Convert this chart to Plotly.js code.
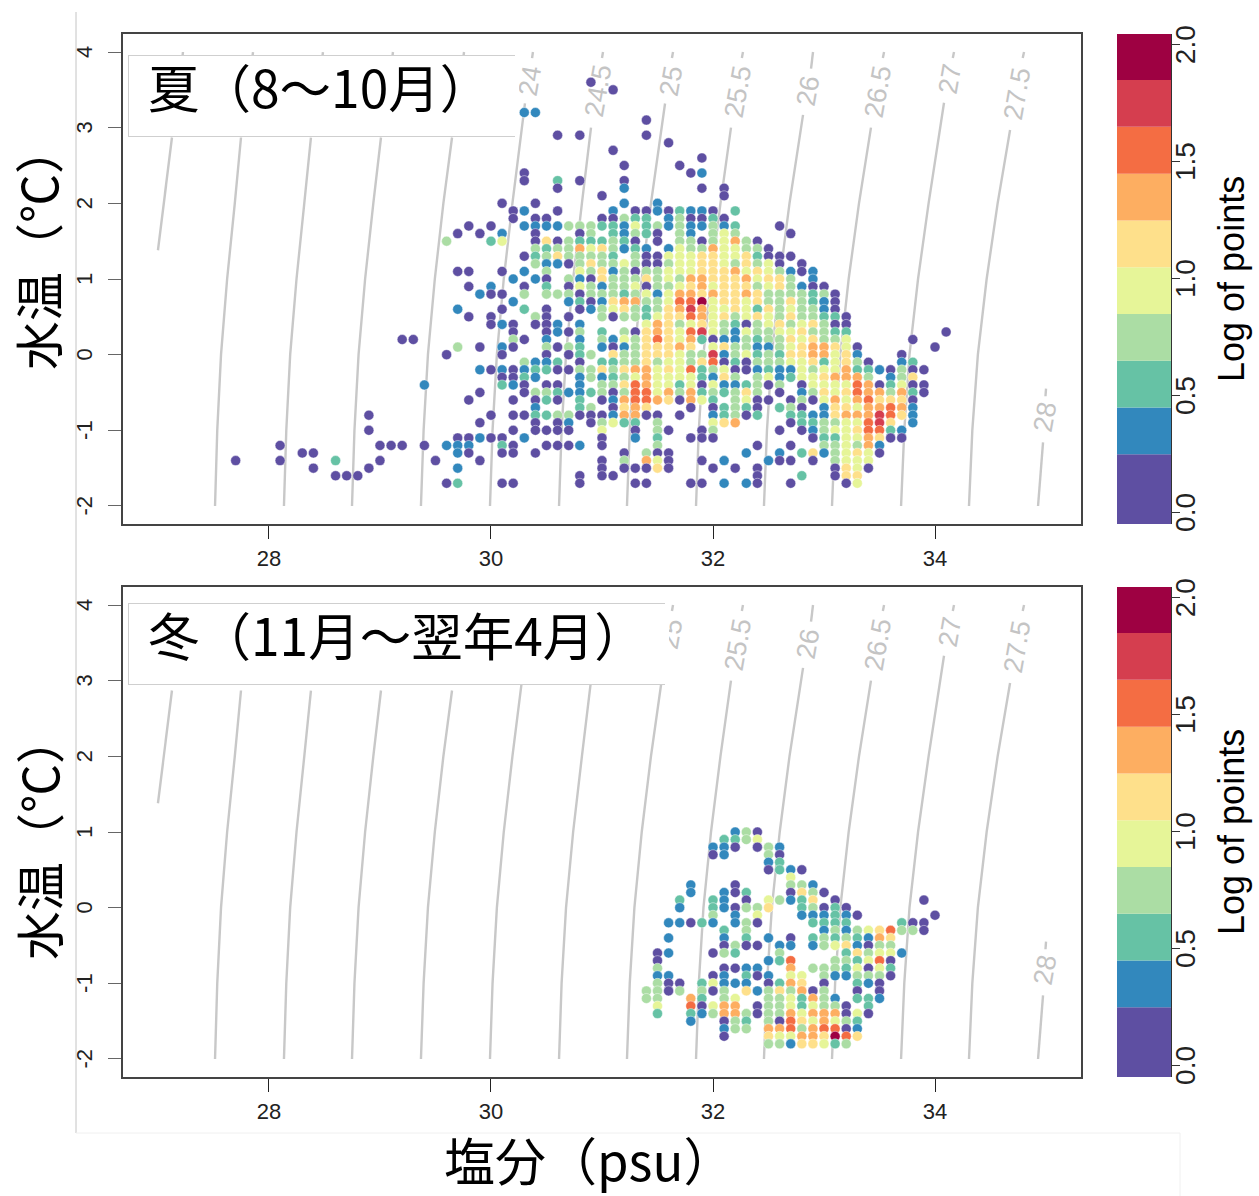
<!DOCTYPE html>
<html><head><meta charset="utf-8">
<script src="https://cdn.plot.ly/plotly-3.0.1.min.js"></script>
<style>html,body{margin:0;padding:0;background:#fff}#c{width:1259px;height:1196px}</style>
</head><body><div id="c"></div>
<script>
// Bin colours of "Log of points" (ten bins) and the edges of the legend cells
const binColors = ["#5E4FA2","#3288BD","#66C2A5","#ABDDA4","#E6F598","#FEE08B","#FDAE61","#F46D43","#D53E4F","#9E0142"];
const binLabels = ["0.0-0.25","0.25-0.45","0.45-0.65","0.65-0.85","0.85-1.05","1.05-1.25","1.25-1.45","1.45-1.65","1.65-1.85","1.85-2.05"];
const binEdges = [-0.048,0.25,0.45,0.65,0.85,1.05,1.25,1.45,1.65,1.85,2.047];

// Summer: salinity column -> "temperature:bin" list
const summerColumns = [
[27.7,"-1.4:0"],
[28.1,"-1.2:0 -1.4:0"],
[28.3,"-1.3:0"],
[28.4,"-1.3:0 -1.5:0"],
[28.6,"-1.4:2 -1.6:0"],
[28.7,"-1.6:0"],
[28.8,"-1.6:0"],
[28.9,"-0.8:0 -1:0 -1.5:0"],
[29.0,"-1.2:0 -1.4:0"],
[29.1,"-1.2:0"],
[29.2,"0.2:0 -1.2:0"],
[29.3,"0.2:0"],
[29.4,"-0.4:1 -1.2:0"],
[29.5,"-1.4:0"],
[29.6,"1.5:3 0:0 -1.2:1 -1.7:0"],
[29.7,"1.6:0 1.1:0 0.6:1 0.1:3 -1.1:0 -1.2:1 -1.3:1 -1.5:1 -1.7:2"],
[29.8,"1.7:0 1.1:0 0.9:0 0.5:0 -0.6:0 -1.1:0 -1.2:1 -1.3:0"],
[29.9,"1.6:0 0.8:1 0.1:0 -0.2:1 -0.5:0 -0.9:0 -1.1:1 -1.4:0"],
[30.0,"1.7:0 1.5:2 0.9:1 0.8:0 0.5:0 0.4:0 -0.2:0 -0.8:0 -1.1:0"],
[30.1,"2:0 1.6:1 1.5:4 1.1:0 0.8:0 0.6:0 0.4:1 0.1:1 0:0 -0.2:1 -0.3:0 -0.4:2 -1.1:0 -1.2:2 -1.3:0 -1.7:0"],
[30.2,"1.9:0 1.8:0 1:1 0.7:1 0.4:0 0.3:0 0.2:3 0.1:0 -0.2:0 -0.3:0 -0.4:1 -0.6:0 -0.8:0 -1:0 -1.2:0 -1.3:0 -1.7:0"],
[30.3,"3.2:1 2.4:0 2.3:0 1.9:1 1.7:1 1.3:0 1.1:1 0.9:0 0.8:3 0.6:2 0.2:0 -0.1:3 -0.2:1 -0.3:2 -0.4:0 -0.5:0 -0.8:0 -1.1:1"],
[30.4,"3.2:1 2:0 1.8:0 1.7:1 1.6:0 1.5:0 1.4:3 1.3:2 1.2:3 1:1 0.5:3 0.4:0 -0.1:1 -0.2:2 -0.3:1 -0.5:3 -0.6:0 -0.7:1 -0.8:2 -0.9:0 -1:0 -1.3:0"],
[30.5,"1.8:0 1.7:1 1.5:5 1.4:2 1.3:3 1.2:1 1.1:3 1:0 0.9:2 0.8:3 0.6:0 0.5:0 0.4:0 0.3:0 0.2:1 0.1:3 0:0 -0.1:1 -0.2:2 -0.4:0 -0.5:3 -0.6:2 -0.8:2 -1:0 -1.2:0"],
[30.6,"2.9:0 2.3:2 2.2:0 1.9:0 1.7:1 1.5:0 1.4:3 1.3:5 1.2:1 0.8:3 0.4:1 0.3:1 0.1:0 -0.1:2 -0.2:0 -0.4:0 -0.5:2 -0.6:0 -0.8:3 -0.9:0 -1:0 -1.2:0"],
[30.7,"1.7:3 1.5:3 1.4:3 1.3:3 1.2:0 1:3 0.9:0 0.8:3 0.7:1 0.5:0 0.3:0 0.1:3 0:0 -0.2:0 -0.5:1 -0.8:3 -0.9:1 -1:0 -1.2:0"],
[30.8,"2.9:0 2.3:0 1.7:3 1.6:0 1.5:2 1.4:6 1.3:3 1.2:3 1.1:4 1:1 0.9:4 0.8:0 0.7:2 0.6:0 0.4:1 0.3:3 0.2:1 0.1:2 0:2 -0.1:0 -0.2:3 -0.3:1 -0.4:1 -0.5:1 -0.6:2 -0.7:2 -0.8:0 -1.2:1 -1.6:0 -1.7:0"],
[30.9,"3.6:0 1.7:3 1.6:3 1.5:2 1.4:4 1.3:3 1.2:5 1.1:3 1:0 0.9:3 0.8:3 0.7:0 0.6:1 0:3 -0.2:3 -0.3:3 -0.5:2 -0.7:3 -0.8:0 -0.9:0"],
[31.0,"2.1:0 1.8:0 1.7:2 1.5:2 1.4:5 1.3:3 1.2:3 1.1:5 1:5 0.9:1 0.8:3 0.7:1 0.6:3 0.5:3 0.3:2 0.2:3 0.1:1 -0.1:2 -0.2:5 -0.3:1 -0.4:3 -0.5:3 -0.6:0 -0.8:0 -0.9:3 -1:4 -1.1:0 -1.2:0 -1.4:0 -1.5:0 -1.6:0"],
[31.1,"3.5:0 2.7:0 1.9:1 1.8:0 1.7:2 1.6:2 1.5:3 1.4:3 1.3:2 1.2:3 1.1:1 1:3 0.9:3 0.8:3 0.7:5 0.6:4 0.5:0 0.2:1 0.1:0 0:5 -0.1:2 -0.2:3 -0.3:2 -0.4:3 -0.5:0 -0.6:1 -0.7:0 -0.8:1 -0.9:4 -1.6:0"],
[31.2,"2.5:0 2.3:0 2.2:1 2:1 1.8:3 1.7:1 1.6:1 1.5:2 1.4:1 1.2:4 1.1:3 1:3 0.9:3 0.8:2 0.7:6 0.6:5 0.5:3 0.3:3 0.2:4 0.1:1 0:3 -0.1:3 -0.2:5 -0.3:3 -0.4:5 -0.5:3 -0.6:6 -0.7:5 -0.8:6 -0.9:2 -1.3:0 -1.4:3 -1.5:0"],
[31.3,"1.9:0 1.8:2 1.7:4 1.6:3 1.5:0 1.4:2 1.3:3 1.2:3 1.1:0 1:3 0.9:4 0.8:3 0.7:6 0.6:3 0.5:3 0.3:0 0.2:3 0.1:3 0:3 -0.1:3 -0.2:6 -0.3:4 -0.4:7 -0.5:7 -0.6:7 -0.7:6 -0.8:6 -0.9:2 -1:0 -1.1:1 -1.5:0 -1.7:0"],
[31.4,"3.1:0 2.9:0 1.9:0 1.8:2 1.7:2 1.6:2 1.4:1 1.3:0 1.2:0 1.1:3 1:5 0.9:0 0.8:4 0.7:3 0.6:2 0.5:2 0.4:4 0.3:5 0.2:5 0.1:5 0:5 -0.1:5 -0.2:6 -0.3:6 -0.4:6 -0.5:7 -0.6:7 -0.7:5 -0.8:0 -1.3:3 -1.4:6 -1.5:0 -1.7:0"],
[31.5,"2:1 1.9:1 1.7:3 1.6:0 1.5:0 1.3:0 1.2:0 1.1:3 1:3 0.9:3 0.8:1 0.7:3 0.6:3 0.5:4 0.4:6 0.3:6 0.2:7 0.1:5 0:5 -0.1:3 -0.2:4 -0.3:4 -0.4:4 -0.5:4 -0.6:6 -0.8:0 -0.9:3 -1:3 -1.1:2 -1.2:3 -1.3:0 -1.4:4 -1.5:5"],
[31.6,"2.8:0 1.9:0 1.8:1 1.7:1 1.4:1 1.3:4 1.2:3 1.1:4 1:4 0.9:3 0.8:4 0.7:4 0.6:5 0.5:5 0.4:5 0.3:5 0.2:5 0.1:5 0:5 -0.1:4 -0.2:5 -0.3:4 -0.4:4 -0.5:6 -0.6:5 -1:0 -1.3:0 -1.4:0 -1.5:0"],
[31.7,"2.5:0 1.9:2 1.8:3 1.7:3 1.6:3 1.5:3 1.4:4 1.3:4 1.2:4 1.1:4 1:3 0.9:4 0.8:6 0.7:7 0.6:6 0.5:5 0.4:3 0.3:4 0.2:4 0.1:6 0:4 -0.1:4 -0.2:4 -0.3:4 -0.4:2 -0.5:3 -0.6:0 -0.8:0"],
[31.8,"2.4:0 1.9:1 1.8:0 1.7:1 1.6:1 1.5:3 1.4:3 1.3:4 1.2:4 1.1:4 1:6 0.9:5 0.8:6 0.7:7 0.6:8 0.5:7 0.4:4 0.3:7 0.2:6 0.1:5 0:3 -0.1:3 -0.2:7 -0.3:4 -0.4:4 -0.5:6 -0.6:6 -0.7:0 -1.1:0 -1.7:0"],
[31.9,"2.6:0 2.4:1 2.2:0 1.9:1 1.8:0 1.7:1 1.5:0 1.4:3 1.3:5 1.2:5 1.1:5 1:6 0.9:6 0.8:5 0.7:9 0.6:6 0.5:6 0.4:5 0.3:8 0.2:2 0:3 -0.1:5 -0.2:2 -0.3:2 -0.4:0 -0.5:2 -0.6:4 -1:0 -1.1:0 -1.4:0 -1.7:0"],
[32.0,"1.9:0 1.8:2 1.7:3 1.6:3 1.5:3 1.4:6 1.3:5 1.2:5 1.1:5 1:5 0.9:4 0.8:6 0.7:4 0.6:4 0.5:4 0.4:4 0.3:4 0.2:0 0.1:4 0:8 -0.1:7 -0.2:3 -0.3:1 -0.4:4 -0.5:3 -0.6:2 -0.7:0 -0.8:1 -0.9:4 -1:3 -1.1:0 -1.5:0"],
[32.1,"2.2:0 2.1:0 1.8:0 1.7:1 1.6:4 1.5:4 1.4:4 1.3:4 1.2:4 1.1:5 1:5 0.9:5 0.8:5 0.7:5 0.6:4 0.5:5 0.4:3 0.3:3 0.2:1 0.1:5 0:1 -0.1:0 -0.2:4 -0.3:5 -0.4:1 -0.5:2 -0.7:2 -0.8:2 -0.9:5 -1.4:1 -1.7:1"],
[32.2,"1.9:2 1.7:2 1.6:3 1.5:6 1.4:4 1.3:4 1.2:3 1.1:6 1:5 0.9:5 0.8:5 0.7:5 0.6:5 0.5:3 0.4:2 0.3:1 0.2:1 0.1:3 0:3 -0.1:2 -0.2:0 -0.3:3 -0.4:1 -0.5:3 -0.6:3 -0.7:3 -0.8:3 -0.9:6 -1.5:0"],
[32.3,"1.5:3 1.4:3 1.3:5 1.2:5 1.1:4 1:6 0.9:5 0.8:6 0.7:4 0.6:4 0.5:4 0.4:0 0.3:4 0.2:3 0.1:3 0:4 -0.1:0 -0.2:0 -0.4:2 -0.5:5 -0.6:4 -0.7:2 -0.8:0 -1.3:1 -1.7:1"],
[32.4,"1.5:0 1.4:3 1.3:2 1.2:3 1.1:5 1:4 0.9:3 0.8:5 0.7:5 0.6:2 0.5:5 0.4:3 0.3:3 0.2:2 0.1:1 0:2 -0.1:3 -0.2:1 -0.3:3 -0.4:3 -0.5:3 -0.6:0 -0.7:0 -0.8:2 -1.2:0 -1.5:0 -1.6:0 -1.7:0"],
[32.5,"1.4:0 1.3:0 1.2:4 1.1:4 1:5 0.9:4 0.8:3 0.7:3 0.6:5 0.5:4 0.4:4 0.3:3 0.2:3 0.1:1 0:3 -0.1:3 -0.2:2 -0.3:4 -0.4:0 -0.6:0 -1.4:1"],
[32.6,"1.7:0 1.3:0 1.2:0 1.1:3 1:5 0.9:5 0.8:3 0.7:3 0.6:3 0.5:3 0.4:5 0.3:4 0.2:3 0.1:3 0:2 -0.1:3 -0.2:1 -0.3:1 -0.4:3 -0.5:0 -0.7:2 -1:0 -1.3:1 -1.4:0"],
[32.7,"1.6:0 1.3:0 1.1:1 1:3 0.9:3 0.8:3 0.7:5 0.6:4 0.5:5 0.4:3 0.3:4 0.2:5 0.1:4 0:5 -0.1:4 -0.2:1 -0.3:2 -0.6:0 -0.7:3 -0.8:2 -0.9:0 -1.2:0 -1.4:0 -1.7:0"],
[32.8,"1.2:0 1.1:0 0.9:1 0.8:3 0.7:3 0.6:3 0.5:3 0.4:4 0.3:5 0.2:4 0.1:5 0:5 -0.1:4 -0.2:4 -0.3:4 -0.4:0 -0.5:1 -0.6:3 -0.7:0 -0.8:2 -0.9:2 -1:0 -1.3:2 -1.6:2"],
[32.9,"1.1:1 1:1 0.9:0 0.8:2 0.7:2 0.6:3 0.5:3 0.4:5 0.3:3 0.2:5 0.1:6 0:6 -0.1:5 -0.2:3 -0.3:4 -0.4:4 -0.5:3 -0.6:0 -0.8:1 -0.9:2 -1:1 -1.1:0 -1.3:5 -1.4:0"],
[33.0,"0.9:0 0.8:3 0.7:1 0.6:1 0.5:2 0.4:3 0.3:3 0.2:3 0.1:6 0:6 -0.1:2 -0.2:4 -0.3:5 -0.4:4 -0.5:5 -0.6:4 -0.7:1 -0.8:1 -0.9:3 -1:3 -1.1:2 -1.2:3 -1.3:1"],
[33.1,"0.8:0 0.7:0 0.6:0 0.5:2 0.4:0 0.3:2 0.2:3 0.1:5 0:4 -0.1:4 -0.2:4 -0.3:6 -0.4:4 -0.5:4 -0.6:6 -0.7:5 -0.8:5 -0.9:3 -1:4 -1.1:2 -1.2:3 -1.3:3 -1.4:3 -1.5:0 -1.6:0"],
[33.2,"0.5:0 0.4:0 0.3:2 0.2:4 0.1:4 0:5 -0.1:5 -0.2:6 -0.3:6 -0.4:4 -0.5:5 -0.6:4 -0.7:5 -0.8:6 -0.9:4 -1:4 -1.1:4 -1.2:4 -1.3:4 -1.4:4 -1.5:5 -1.6:5 -1.7:0"],
[33.3,"0.1:0 0:1 -0.1:3 -0.2:2 -0.3:6 -0.4:7 -0.5:7 -0.6:6 -0.7:4 -0.8:6 -0.9:4 -1:5 -1.1:4 -1.2:3 -1.3:5 -1.4:4 -1.5:4 -1.6:5 -1.7:4"],
[33.4,"-0.1:0 -0.2:2 -0.3:3 -0.4:6 -0.5:6 -0.6:7 -0.7:6 -0.8:6 -0.9:7 -1:7 -1.1:6 -1.2:6 -1.3:4 -1.4:4 -1.5:0"],
[33.5,"-0.2:1 -0.4:0 -0.5:6 -0.6:5 -0.7:6 -0.8:8 -0.9:8 -1:7 -1.1:5 -1.2:1 -1.3:0"],
[33.6,"-0.2:0 -0.3:1 -0.4:2 -0.5:3 -0.6:5 -0.7:7 -0.8:7 -0.9:5 -1:2 -1.1:0"],
[33.7,"0:0 -0.1:1 -0.2:3 -0.3:3 -0.4:4 -0.5:6 -0.6:5 -0.7:6 -0.8:5 -1:1 -1.1:0"],
[33.8,"0.2:0 -0.1:2 -0.2:0 -0.3:5 -0.4:0 -0.5:2 -0.6:0 -0.7:1 -0.8:1 -0.9:1"],
[33.9,"-0.2:0 -0.4:0 -0.5:0"],
[34.0,"0.1:0"],
[34.1,"0.3:0"]
];

// Winter: salinity column -> "temperature:bin" list
const winterColumns = [
[31.4,"-1.1:3 -1.2:3"],
[31.5,"-0.6:0 -0.7:0 -0.8:3 -0.9:1 -1:3 -1.1:3 -1.2:3 -1.3:4 -1.4:2"],
[31.6,"-0.2:1 -0.4:1 -0.6:1 -0.9:1 -1:0 -1.1:0"],
[31.7,"0.1:2 0:1 -0.2:1 -1:0 -1.1:3"],
[31.8,"0.3:1 0.2:1 -0.2:0 -1.2:6 -1.3:7 -1.4:2 -1.5:1"],
[31.9,"-0.2:2 -1:2 -1.1:3 -1.2:2 -1.3:0 -1.4:1"],
[32.0,"0.8:1 0.7:0 0.1:2 0:2 -0.1:3 -0.2:1 -0.6:0 -0.9:0 -1:4 -1.1:0 -1.3:4 -1.4:3"],
[32.1,"0.9:2 0.8:1 0.7:1 0.2:1 0.1:1 0:1 -0.3:2 -0.4:1 -0.5:0 -0.6:3 -0.8:0 -0.9:1 -1:1 -1.1:3 -1.2:3 -1.3:6 -1.4:6 -1.5:0 -1.6:1 -1.7:0"],
[32.2,"1:1 0.9:2 0.8:0 0.3:0 0.2:0 0:0 -0.1:1 -0.2:1 -0.5:3 -0.6:2 -0.8:0 -1:1 -1.2:4 -1.3:6 -1.4:6 -1.5:3 -1.6:3"],
[32.3,"1:3 0.9:3 0.2:2 0.1:0 0:3 -0.2:3 -0.3:3 -0.4:2 -0.5:0 -0.8:1 -0.9:2 -1:1 -1.1:5 -1.4:3 -1.5:2 -1.6:3"],
[32.4,"1:0 0.9:4 0.8:0 0:3 -0.1:4 -0.2:0 -0.5:0 -0.8:1 -0.9:0 -1.1:1 -1.3:0 -1.4:0"],
[32.5,"0.8:3 0.7:3 0.6:1 0.5:0 0.1:4 0:5 -0.4:1 -0.7:1 -0.9:1 -1:0 -1.1:3 -1.2:3 -1.3:3 -1.4:3 -1.5:3 -1.6:6 -1.7:5 -1.8:3"],
[32.6,"0.8:1 0.7:0 0.6:2 0.5:2 0.1:3 -0.5:1 -0.6:3 -0.7:2 -1:2 -1.1:5 -1.2:3 -1.3:3 -1.4:3 -1.5:0 -1.6:6 -1.7:4 -1.8:3"],
[32.7,"0.5:1 0.4:4 0.3:3 0.2:0 0.1:1 -0.4:0 -0.5:1 -0.7:7 -0.8:6 -0.9:4 -1:6 -1.1:3 -1.2:4 -1.3:4 -1.4:6 -1.5:7 -1.6:7 -1.7:4 -1.8:1"],
[32.8,"0.5:0 0.3:3 0.2:5 0.1:2 0:2 -0.1:1 -0.9:4 -1:5 -1.1:6 -1.2:2 -1.3:2 -1.4:4 -1.5:5 -1.6:3 -1.7:6 -1.8:5"],
[32.9,"0.3:1 0.2:3 0.1:5 0:3 -0.1:1 -0.2:2 -0.4:2 -0.5:1 -0.8:3 -1.1:0 -1.2:6 -1.3:4 -1.4:6 -1.5:4 -1.6:6 -1.7:6 -1.8:5"],
[33.0,"0.2:0 0:0 -0.1:1 -0.2:2 -0.3:1 -0.4:3 -0.5:3 -0.8:3 -0.9:3 -1:0 -1.1:3 -1.2:3 -1.3:3 -1.4:6 -1.5:6 -1.6:7 -1.7:5 -1.8:4"],
[33.1,"0.1:0 0:2 -0.1:2 -0.2:2 -0.3:3 -0.4:2 -0.5:4 -0.7:3 -0.8:3 -0.9:1 -1.2:1 -1.3:3 -1.4:6 -1.5:4 -1.6:7 -1.7:9 -1.8:2"],
[33.2,"0:0 -0.1:1 -0.2:2 -0.3:1 -0.4:3 -0.5:5 -0.6:2 -0.7:3 -0.8:2 -0.9:1 -1.3:0 -1.4:0 -1.5:3 -1.6:0 -1.7:7 -1.8:3"],
[33.3,"-0.1:0 -0.3:3 -0.4:2 -0.5:1 -0.6:5 -0.7:2 -0.8:4 -0.9:3 -1:2 -1.1:0 -1.2:2 -1.4:4 -1.5:2 -1.6:1 -1.7:5"],
[33.4,"-0.3:4 -0.4:1 -0.5:0 -0.6:3 -0.7:4 -0.8:0 -0.9:3 -1:1 -1.2:2 -1.3:2 -1.4:0"],
[33.5,"-0.3:5 -0.4:6 -0.5:3 -0.6:4 -0.7:7 -0.8:4 -0.9:3 -1:0 -1.1:0 -1.2:1"],
[33.6,"-0.3:7 -0.4:5 -0.5:3 -0.6:4 -0.7:0 -0.8:2 -0.9:0"],
[33.7,"-0.2:2 -0.3:3 -0.6:1"],
[33.8,"-0.2:0 -0.3:3"],
[33.9,"0.1:0 -0.2:0 -0.3:0"],
[34.0,"-0.1:0"]
];

// Density (sigma-t) contours
const isoLevels = ["21.5","22","22.5","23","23.5","24","24.5","25","25.5","26","26.5","27","27.5","28"];
const isoTemps = [
 [1.38,2,2.87,null,3.92,4],
 [-2,-1,0,1,2,2.87,null,3.92,4],[-2,-1,0,1,2,2.87,null,3.92,4],[-2,-1,0,1,2,2.87,null,3.92,4],[-2,-1,0,1,2,2.87,null,3.92,4],
 [-2,-1,0,1,2,3.32,null,3.92,4],[-2,-1,0,1,2,3,null,3.92,4],[-2,-1,0,1,2,3.32,null,3.92,4],[-2,-1,0,1,2,3,null,3.92,4],
 [-2,-1,0,1,2,3.17,null,3.78,4],[-2,-1,0,1,2,3,null,3.92,4],[-2,-1,0,1,2,3.33,null,3.92,4],[-2,-1,0,1,2,2.97,null,3.92,4],
 [-2,-1.16,null,-0.55,-0.45]
];
const isoSalts = [
 [27.0,27.05,27.126,null,27.22,27.225],
 [27.514,27.534,27.568,27.623,27.692,27.748,null,27.85,27.856],
 [28.135,28.156,28.191,28.248,28.318,28.378,null,28.48,28.486],
 [28.748,28.770,28.807,28.866,28.94,29.009,null,29.11,29.117],
 [29.369,29.393,29.432,29.494,29.571,29.649,null,29.75,29.757],
 [29.991,30.014,30.053,30.115,30.193,30.306,null,30.37,30.378],
 [30.613,30.636,30.676,30.74,30.819,30.901,null,31.0,31.009],
 [31.225,31.25,31.292,31.358,31.441,31.568,null,31.63,31.64],
 [31.847,31.872,31.914,31.982,32.067,32.162,null,32.26,32.27],
 [32.459,32.486,32.53,32.601,32.689,32.811,null,32.883,32.901],
 [33.072,33.1,33.147,33.222,33.315,33.423,null,33.53,33.541],
 [33.694,33.723,33.77,33.847,33.942,34.081,null,34.16,34.171],
 [34.306,34.336,34.386,34.465,34.564,34.676,null,34.79,34.802],
 [34.928,34.973,null,34.995,35.0]
];
const isoLabelSalt = [null,null,null,null,null,30.351,30.964,31.622,32.225,32.856,33.486,34.135,34.739,34.991];
const isoLabelTemp = [null,null,null,null,null,3.617,3.485,3.617,3.485,3.485,3.485,3.643,3.445,-0.824];

const salinityTicks = [28,30,32,34];
const temperatureTicks = [-2,-1,0,1,2,3,4];
const legendTicks = [0,0.5,1,1.5,2];
const legendTickText = ["0.0","0.5","1.0","1.5","2.0"];
const panelTitles = ["夏（8～10月）","冬（11月～翌年4月）"];
const yTitle = "水温（℃）";
const xTitle = "塩分（psu）";
const legendTitle = "Log of points";

// ---------- layout geometry (pixels of the 1259x1196 page)
const W=1259,H=1196;
const px=v=>v/W, py=v=>1-v/H;
const panels=[{top:34,bottom:524,boxW:388,boxTop:55,ty:85,yT:248,xa:'x',ya:'y',xb:'x3',yb:'y3'},
              {top:587,bottom:1077,boxW:538,boxTop:603,ty:633,yT:838,xa:'x2',ya:'y2',xb:'x4',yb:'y4'}];
const FONT="Liberation Sans, Arial, sans-serif", CJK="Noto Sans CJK JP, sans-serif";
const NB="\u00a0";

function decode(cols){
  const x=[],y=[],c=[],t=[];
  cols.forEach(([s,list])=>list.split(" ").forEach(e=>{
    const [a,b]=e.split(":");
    x.push(s);y.push(+a);c.push(binColors[+b]);t.push(binLabels[+b]);
  }));
  return {x,y,c,t};
}
const traces=[];
[summerColumns,winterColumns].forEach((cols,i)=>{
  const p=panels[i];
  isoLevels.forEach((lv,k)=>traces.push({type:'scatter',mode:'lines',x:isoSalts[k],y:isoTemps[k],xaxis:p.xa,yaxis:p.ya,
    line:{color:'#c8c8c8',width:2.4},hoverinfo:'skip',showlegend:false,connectgaps:false,name:'σt '+lv}));
  const d=decode(cols);
  traces.push({type:'scatter',mode:'markers',x:d.x,y:d.y,text:d.t,xaxis:p.xa,yaxis:p.ya,showlegend:false,
    marker:{size:10,color:d.c,line:{color:'rgba(255,255,255,0.55)',width:0.8}}});
  // colour legend
  binColors.forEach((col,b)=>traces.push({type:'bar',x:[0],y:[binEdges[b+1]-binEdges[b]],base:[binEdges[b]],width:[1],xaxis:p.xb,yaxis:p.yb,
    marker:{color:col,line:{width:0}},showlegend:false,hoverinfo:'skip',name:binLabels[b]}));
});

const dark='#444';
function xAx(anchor){return {domain:[px(123),px(1081)],range:[26.685,35.315],anchor,tickmode:'array',tickvals:salinityTicks,ticktext:salinityTicks.map(String),
  ticks:'outside',ticklen:13,tickwidth:1,tickcolor:'#222',showline:true,mirror:true,linecolor:dark,linewidth:1.6,showgrid:false,zeroline:false,
  tickfont:{family:FONT,size:22,color:'#222'},ticklabelstandoff:1};}
function yAx(anchor,p){return {domain:[py(p.bottom),py(p.top)],range:[-2.238,4.238],anchor,tickmode:'array',tickvals:temperatureTicks,
  ticktext:temperatureTicks.map(v=>v+NB),ticks:'outside',ticklen:13,tickwidth:1.4,tickcolor:'#666',showline:true,mirror:true,linecolor:dark,linewidth:1.6,
  showgrid:false,zeroline:false,tickangle:-90,tickfont:{family:FONT,size:22,color:'#222'},ticklabelstandoff:7};}
function xLeg(anchor){return {domain:[px(1117),px(1171)],range:[-0.5,0.5],anchor,visible:false,fixedrange:true};}
function yLeg(anchor,p){return {domain:[py(p.bottom),py(p.top)],range:[-0.048,2.047],anchor,side:'right',tickmode:'array',tickvals:legendTicks,
  ticktext:legendTickText.map(v=>v+NB),ticks:'outside',ticklen:8,tickwidth:1,tickcolor:'#333',showline:true,linecolor:'#333',linewidth:1.2,showgrid:false,zeroline:false,
  tickangle:-90,tickfont:{family:FONT,size:28,color:'#222'},ticklabelstandoff:-19};}

const annotations=[];
panels.forEach((p,i)=>{
  isoLevels.forEach((lv,k)=>{ if(isoLabelSalt[k]===null) return;
    annotations.push({xref:p.xa,yref:p.ya,x:isoLabelSalt[k],y:isoLabelTemp[k],text:lv,showarrow:false,textangle:-80,
      xanchor:'center',yanchor:'middle',font:{family:FONT,size:27,color:'#c4c4c4'}});
  });
  // title box (covers the contour labels behind it)
  annotations.push({xref:'paper',yref:'paper',x:px(128),y:py(p.boxTop),xanchor:'left',yanchor:'top',text:' ',showarrow:false,
    width:p.boxW,height:80,bgcolor:'#fff',bordercolor:'#cfcfcf',borderwidth:1,borderpad:0});
  annotations.push({xref:'paper',yref:'paper',x:px(128+p.boxW-1),y:py(p.boxTop-1),xanchor:'left',yanchor:'top',text:' ',showarrow:false,
    width:4,height:84,bgcolor:'#fff',borderwidth:0,borderpad:0});
  annotations.push({xref:'paper',yref:'paper',x:px(146),y:py(p.ty),xanchor:'left',yanchor:'middle',text:panelTitles[i],showarrow:false,
    font:{family:CJK,size:51.5,color:'#000'}});
  annotations.push({xref:'paper',yref:'paper',x:px(37),y:py(p.yT),xanchor:'center',yanchor:'middle',text:yTitle,showarrow:false,textangle:-90,
    font:{family:CJK,size:49,color:'#000'}});
  annotations.push({xref:'paper',yref:'paper',x:px(1231),y:py(p.top+245),xanchor:'center',yanchor:'middle',text:legendTitle,showarrow:false,textangle:-90,
    font:{family:FONT,size:36,color:'#000'}});
});
annotations.push({xref:'paper',yref:'paper',x:px(442),y:py(1159),xanchor:'left',yanchor:'middle',text:xTitle,showarrow:false,
  font:{family:CJK,size:51,color:'#000'}});

const shapes=[
 {type:'line',xref:'paper',yref:'paper',x0:px(76),x1:px(76),y0:py(12),y1:py(1133),line:{color:'#c4c4c4',width:1},layer:'below'},
 {type:'line',xref:'paper',yref:'paper',x0:px(76),x1:px(1180),y0:py(1133),y1:py(1133),line:{color:'#f0f0f0',width:1},layer:'below'},
 {type:'line',xref:'paper',yref:'paper',x0:px(1180),x1:px(1180),y0:py(1133),y1:py(1196),line:{color:'#f0f0f0',width:1},layer:'below'}
];

const layout={width:W,height:H,margin:{l:0,r:0,t:0,b:0,pad:0},paper_bgcolor:'#fff',plot_bgcolor:'#fff',showlegend:false,barmode:'overlay',
 xaxis:xAx('y'),yaxis:yAx('x',panels[0]),xaxis2:xAx('y2'),yaxis2:yAx('x2',panels[1]),
 xaxis3:xLeg('y3'),yaxis3:yLeg('x3',panels[0]),xaxis4:xLeg('y4'),yaxis4:yLeg('x4',panels[1]),
 annotations,shapes};
Plotly.newPlot('c',traces,layout,{displayModeBar:false,responsive:false});
</script></body></html>
